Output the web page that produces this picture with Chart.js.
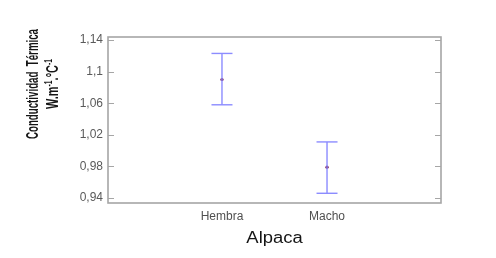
<!DOCTYPE html>
<html>
<head>
<meta charset="utf-8">
<script src="https://cdn.jsdelivr.net/npm/chart.js@4.4.0/dist/chart.umd.min.js"></script>
<style>
  html, body { margin: 0; padding: 0; background: #fff; }
  #wrap { width: 496px; height: 258px; }
</style>
</head>
<body>
<div id="wrap"><canvas id="myChart" width="496" height="258"></canvas></div>
<script>
// data
const categories = ["Hembra", "Macho"]
const means = [1.090, 0.979]
const upper = [1.123, 1.011]
const lower = [1.058, 0.946]

const yTicks = [0.94, 0.98, 1.02, 1.06, 1.10, 1.14]
const yTickLabels = ["0,94", "0,98", "1,02", "1,06", "1,1", "1,14"]

const barColor = "#8c8cff"
const dotColor = "#701048"
const frameColor = "#a6a6a6"

// whiskers: two points per category, broken by a null
let whiskers = []
categories.forEach((c, i) => {
    if (i > 0) whiskers.push({ x: i + 0.5, y: null })
    whiskers.push({ x: i + 1, y: lower[i] })
    whiskers.push({ x: i + 1, y: upper[i] })
})

let caps = []
categories.forEach((c, i) => {
    caps.push({ x: i + 1, y: lower[i] })
    caps.push({ x: i + 1, y: upper[i] })
})

const meanPoints = means.map((v, i) => ({ x: i + 1, y: v }))

// draw text squeezed/stretched along its direction
function scaledText(ctx, text, x, y, font, sx) {
    ctx.save()
    ctx.font = font
    ctx.translate(x, y)
    ctx.scale(sx, 1)
    ctx.fillText(text, 0, 0)
    ctx.restore()
}

const frame = {
    id: "frame",
    beforeDatasetsDraw(chart) {
        const { ctx, chartArea: a, scales } = chart
        ctx.save()
        ctx.strokeStyle = frameColor
        ctx.lineWidth = 1.6
        ctx.strokeRect(a.left, a.top, a.right - a.left, a.bottom - a.top)
        ctx.lineWidth = 1
        ctx.beginPath()
        for (let t of yTicks) {
            let py = Math.round(scales.y.getPixelForValue(t)) + 0.5
            ctx.moveTo(a.left, py)
            ctx.lineTo(a.left + 6, py)
            ctx.moveTo(a.right, py)
            ctx.lineTo(a.right - 6, py)
        }
        ctx.stroke()
        ctx.restore()
    },
    afterDraw(chart) {
        const { ctx, chartArea: a } = chart
        ctx.save()
        ctx.fillStyle = "#151515"
        ctx.textBaseline = "alphabetic"

        // x title
        ctx.textAlign = "center"
        scaledText(ctx, "Alpaca", (a.left + a.right) / 2, 243, "16px 'Liberation Sans', Arial", 1.15)

        // y title, rotated
        ctx.save()
        ctx.translate(38, 84)
        ctx.rotate(-Math.PI / 2)
        ctx.textAlign = "center"
        const f1 = "bold 16px 'Liberation Sans', Arial"
        ctx.font = f1
        const t1 = "Conductividad  Térmica"
        scaledText(ctx, t1, 0, 0, f1, 110 / ctx.measureText(t1).width)

        // second line with superscripts
        const big = "bold 16px 'Liberation Sans', Arial"
        const small = "bold 10px 'Liberation Sans', Arial"
        const parts = [["W.m", big, 0], ["-1", small, -6], [".°C", big, 0], ["-1", small, -6]]
        let raw = 0
        for (let p of parts) { ctx.font = p[1]; raw += ctx.measureText(p[0]).width }
        const sx = 50 / raw
        let cx = -25
        ctx.textAlign = "left"
        for (let p of parts) {
            ctx.font = p[1]
            scaledText(ctx, p[0], cx, 20 + p[2], p[1], sx)
            cx += ctx.measureText(p[0]).width * sx
        }
        ctx.restore()
        ctx.restore()
    }
}

const ctx = document.getElementById("myChart")

new Chart(ctx, {
    type: "scatter",
    data: {
        datasets: [
            {
                data: whiskers,
                showLine: true,
                spanGaps: false,
                borderColor: barColor,
                borderWidth: 1.4,
                pointRadius: 0
            },
            {
                data: caps,
                pointStyle: "line",
                pointRadius: 10.5,
                borderColor: barColor,
                borderWidth: 1.4,
                pointHoverRadius: 10.5
            },
            {
                data: meanPoints,
                pointRadius: 1.6,
                backgroundColor: dotColor,
                borderColor: dotColor,
                borderWidth: 0
            }
        ]
    },
    options: {
        responsive: false,
        animation: false,
        events: [],
        layout: { padding: { left: 0, top: 37, right: 55, bottom: 0 } },
        plugins: {
            legend: { display: false },
            tooltip: { enabled: false }
        },
        scales: {
            x: {
                type: "linear",
                min: -0.085,
                max: 3.085,
                afterFit(s) { s.height = 55 },
                afterBuildTicks(s) { s.ticks = categories.map((c, i) => ({ value: i + 1 })) },
                grid: { display: false, drawTicks: false },
                border: { display: false },
                ticks: {
                    padding: 6,
                    color: "#505050",
                    font: { family: "'Liberation Sans', Arial", size: 12 },
                    callback: (v) => categories[v - 1]
                }
            },
            y: {
                min: 0.9337,
                max: 1.1438,
                afterFit(s) { s.width = 108 },
                afterBuildTicks(s) { s.ticks = yTicks.map(v => ({ value: v })) },
                grid: { display: false, drawTicks: false },
                border: { display: false },
                ticks: {
                    padding: 5,
                    color: "#5a5a5a",
                    font: { family: "'Liberation Sans', Arial", size: 12 },
                    callback: (v) => yTickLabels[yTicks.findIndex(t => Math.abs(t - v) < 1e-6)]
                }
            }
        }
    },
    plugins: [frame]
})
</script>
</body>
</html>
